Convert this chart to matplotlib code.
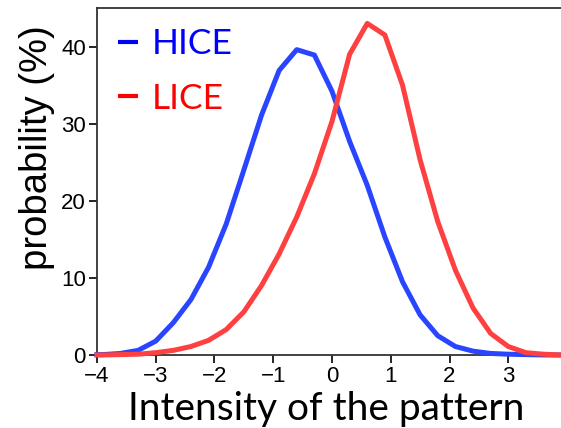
import matplotlib
matplotlib.use('Agg')
import matplotlib.pyplot as plt

# intensity bins
x = [-4.0, -3.9, -3.6, -3.3, -3.0, -2.7, -2.4, -2.1, -1.8, -1.5, -1.2, -0.9, -0.6, -0.3,
     0.0, 0.3, 0.6, 0.9, 1.2, 1.5, 1.8, 2.1, 2.4, 2.7, 3.0, 3.3, 3.6, 3.9, 4.0]

# probability (%)
hice = [0.05, 0.05, 0.2, 0.6, 1.8, 4.2, 7.2, 11.4, 17.0, 24.0, 31.1, 36.9, 39.6, 38.9,
        34.2, 27.7, 22.0, 15.3, 9.5, 5.2, 2.5, 1.1, 0.5, 0.2, 0.1, 0.05, 0.0, 0.0, 0.0]
lice = [0.0, 0.0, 0.05, 0.1, 0.3, 0.6, 1.1, 1.9, 3.3, 5.6, 9.0, 13.1, 17.9, 23.5,
        30.3, 39.0, 43.0, 41.5, 35.0, 25.3, 17.3, 11.0, 6.1, 2.8, 1.1, 0.3, 0.1, 0.0, 0.0]

xticks = [-4, -3, -2, -1, 0, 1, 2, 3, 4]
yticks = [0, 10, 20, 30, 40]

fig = plt.figure(figsize=(5.61, 4.28), dpi=100)
ax = fig.add_axes([0.1729, 0.1706, 0.8378, 0.8107])

ax.plot(x, hice, color='#2a45ff', lw=3.6, label='HICE', clip_on=False, zorder=3)
ax.plot(x, lice, color='#ff4040', lw=3.6, label='LICE', clip_on=False, zorder=3)

ax.set_xlim(-4, 4)
ax.set_ylim(0, 45)
ax.set_xticks(xticks)
ax.set_yticks(yticks)
ax.tick_params(direction='out', length=6, width=1.2, labelsize=16, pad=2)
for lab in ax.get_xticklabels() + ax.get_yticklabels():
    lab.set_family('Liberation Sans')

for s in ax.spines.values():
    s.set_linewidth(1.3)
    s.set_color('#333333')

ax.set_xlabel('Intensity of the pattern', family='Lato', fontsize=28)
ax.xaxis.set_label_coords(0.5 - 6 / 470, -0.105)
ax.set_ylabel('probability (%)', family='Liberation Sans', fontsize=27.5)
ax.yaxis.set_label_coords(-0.089, 0.597)

leg = ax.legend(loc='upper left', frameon=False, prop={'family': 'Lato', 'size': 25.5},
                bbox_to_anchor=(21 / 470, 0.942), borderpad=0, borderaxespad=0,
                handlelength=0.57, handletextpad=0.37, labelspacing=0.64)
for t, c in zip(leg.get_texts(), ['#0000ff', '#ff0000']):
    t.set_color(c)
for h, c in zip(leg.legend_handles, ['#0000ff', '#ff0000']):
    h.set_linewidth(3)
    h.set_solid_capstyle('butt')
    h.set_color(c)

fig.savefig('out.png', dpi=100)
